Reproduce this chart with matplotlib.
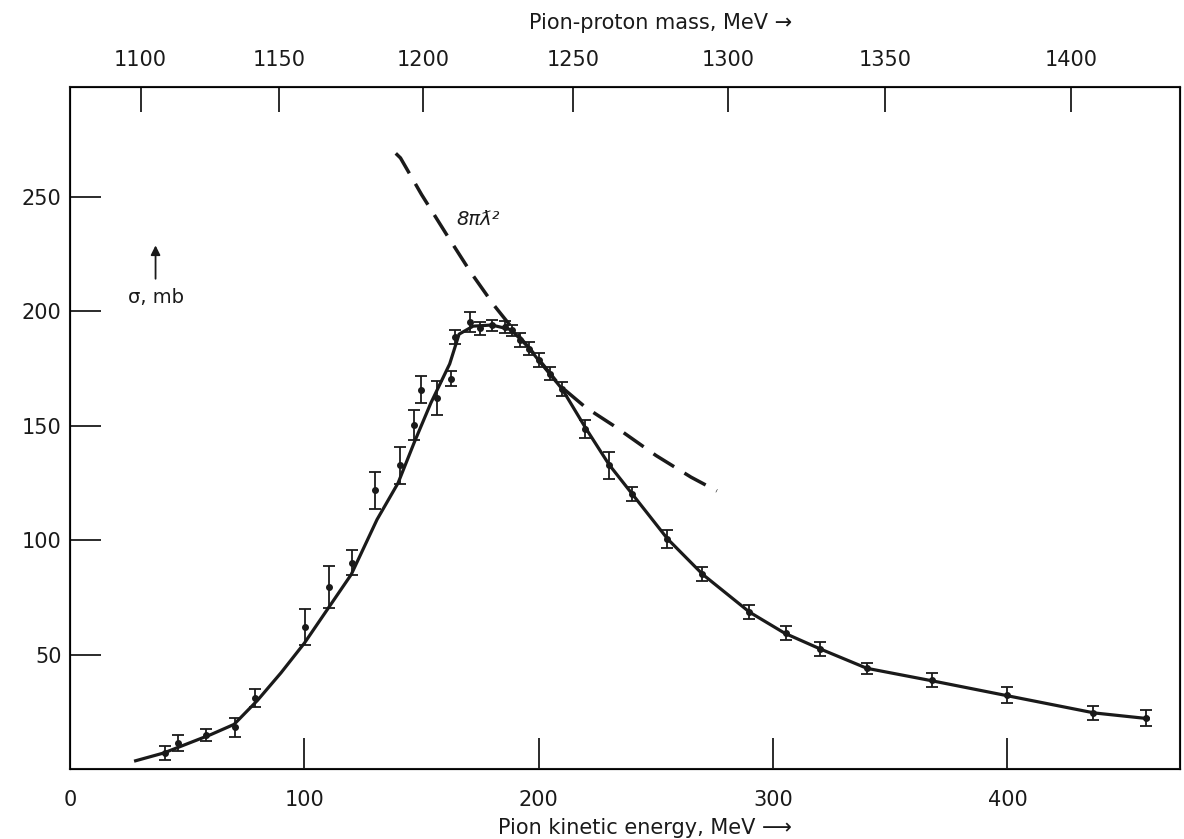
import matplotlib
matplotlib.use("Agg")
import matplotlib.pyplot as plt

# measured cross sections (pion kinetic energy MeV, sigma mb, error mb)
T_data = [40.4, 46.1, 58.2, 70.6, 78.8, 100.4, 110.4, 120.3, 130.3, 140.6,
          146.6, 149.9, 156.6, 162.6, 164.4, 170.5, 174.8, 180.0, 185.7, 188.6,
          192.1, 195.7, 199.9, 204.9, 210.0, 219.8, 230.1, 239.7, 254.7, 269.6,
          289.5, 305.5, 320.0, 340.0, 367.7, 399.7, 436.6, 459.0]
sigma_data = [6.9, 11.2, 14.9, 18.2, 30.9, 62.0, 79.5, 90.1, 121.8, 132.7,
              150.2, 165.8, 162.2, 170.6, 188.8, 195.4, 192.5, 193.9, 193.2, 191.7,
              187.4, 183.7, 178.6, 172.8, 166.0, 148.7, 132.7, 120.3, 100.6, 85.3,
              68.5, 59.3, 52.5, 44.0, 38.9, 32.5, 24.4, 22.3]
sigma_err = [3, 3.5, 2.5, 4, 4, 8, 9, 5.5, 8, 8,
             6.5, 6, 7.5, 3.3, 3, 4.5, 3, 2.5, 2.5, 2.5,
             3, 3, 3, 3, 3, 4, 6, 3, 4, 3,
             3, 3, 3, 2.5, 3, 3.5, 3, 3.5]

# fitted curve through the points
T_fit = [28, 40, 50, 60, 70, 80, 90, 100, 110, 120, 131, 140, 147, 154, 162,
         166, 172, 180, 188, 195, 200, 210, 220, 230, 240, 255, 270, 290, 305,
         320, 340, 368, 400, 437, 460]
sigma_fit = [3.6, 7, 11, 15, 19.5, 30, 42, 55, 70, 85, 109, 125, 143, 160, 177,
             190, 193.5, 194, 192, 185, 178.5, 166, 149, 133, 120, 100.5, 85, 68.5, 59.3,
             52.5, 44, 38.5, 32, 24.5, 22]

# 8 pi lambdabar^2 limit (dashed)
T_limit = [139, 141, 150, 161, 171, 181, 190, 200, 209, 220, 232, 250, 265, 276]
sigma_limit = [269, 267, 251, 233, 217, 202.5, 191, 179, 167.5, 158, 150, 137, 127.5, 121.5]

# top axis: pion-proton mass
mass_labels = ["1100", "1150", "1200", "1250", "1300", "1350", "1400"]
mass_at_T = [30.1, 89.3, 150.7, 214.7, 280.8, 347.7, 427.0]

x_ticks = [0, 100, 200, 300, 400]
y_ticks = [50, 100, 150, 200, 250]

plt.rcParams['font.family'] = ['DejaVu Sans']
ink = "#1a1a1a"

fig = plt.figure(figsize=(11.84, 8.39), dpi=100)
ax = fig.add_axes([70/1184, 70/839, 1110/1184, 682/839])

ax.plot(T_fit, sigma_fit, color=ink, lw=2.3)
ax.plot(T_limit, sigma_limit, color=ink, lw=2.5, dashes=(7, 3.5))
ax.errorbar(T_data, sigma_data, yerr=sigma_err, fmt='o', ms=4, color=ink,
            capsize=4, elinewidth=1.3, capthick=1.3)

ax.set_xlim(0, 473.6)
ax.set_ylim(0, 298)
ax.set_xticks(x_ticks)
ax.set_yticks(y_ticks)
ax.tick_params(axis='x', direction='in', length=22, width=1.3, pad=15,
               labelsize=15, colors=ink)
ax.tick_params(axis='y', direction='in', length=22, width=1.3, pad=6,
               labelsize=15, colors=ink)
for sp in ax.spines.values():
    sp.set_linewidth(1.5)
    sp.set_color(ink)

ax.set_xlabel("Pion kinetic energy, MeV \u27f6", fontsize=15, color=ink, va='center')
ax.xaxis.set_label_coords(0.518, -0.087)

ax2 = ax.twiny()
ax2.set_xlim(ax.get_xlim())
ax2.set_xticks(mass_at_T)
ax2.set_xticklabels(mass_labels)
ax2.tick_params(axis='x', direction='in', length=18, width=1.3, pad=12,
                labelsize=15, colors=ink)
ax2.set_xlabel("Pion-proton mass, MeV \u2192", fontsize=15, color=ink)
ax2.xaxis.set_label_coords(0.532, 1.085)

ax.annotate("", xy=(36.5, 230), xytext=(36.5, 213),
            arrowprops=dict(arrowstyle='-|>', color=ink, lw=1.3, mutation_scale=14))
ax.text(36.5, 206, "\u03c3, mb", fontsize=14, ha='center', va='center', color=ink)
ax.text(174, 240, "8\u03c0\u019b\u00b2", fontsize=14, ha='center', va='center',
        color=ink, style='italic')

fig.savefig("out.png", dpi=100)
